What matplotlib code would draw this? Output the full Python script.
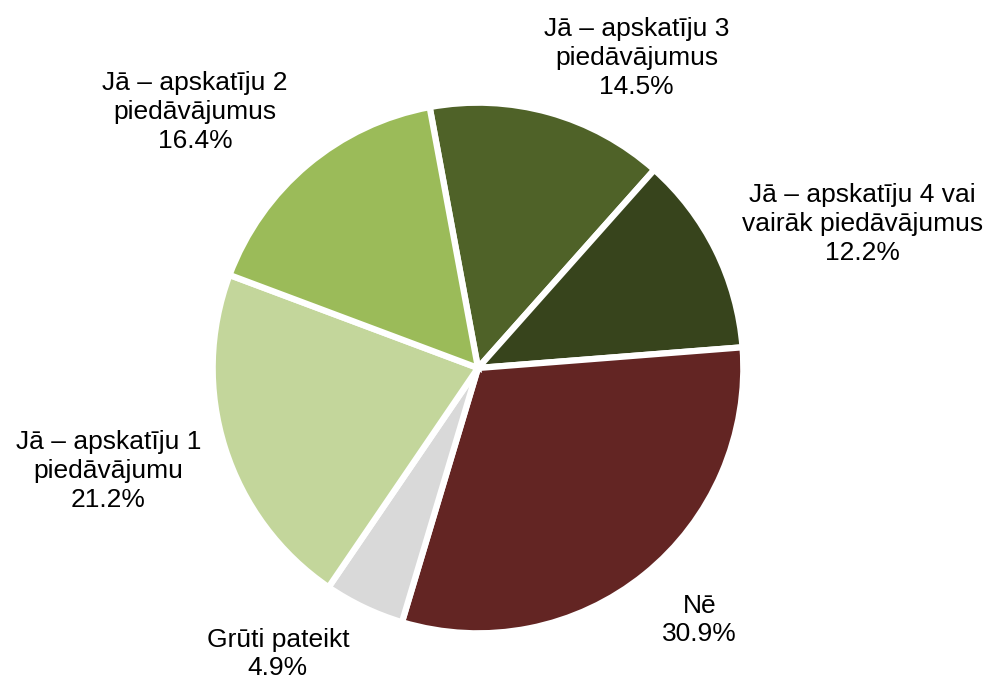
import matplotlib.pyplot as plt

plt.rcParams['font.family'] = ['Liberation Sans', 'DejaVu Sans']

# Kategorijas pulksteņrādītāja virzienā, sākot no augšas
labels = ['Jā – apskatīju 3\npiedāvājumus',
          'Jā – apskatīju 4 vai\nvairāk piedāvājumus',
          'Nē',
          'Grūti pateikt',
          'Jā – apskatīju 1\npiedāvājumu',
          'Jā – apskatīju 2\npiedāvājumus']
shares = [14.5, 12.2, 30.9, 4.9, 21.2, 16.4]
colors = ['#4F6228', '#37441C', '#632523', '#D9D9D9', '#C3D69B', '#9BBB59']

# etiķešu vietas (pīrāga rādiuss = 1)
label_pos = [(0.60, 1.175), (1.455, 0.545), (0.84, -0.955),
             (-0.758, -1.083), (-1.40, -0.39), (-1.072, 0.97)]

fig = plt.figure(figsize=(9.84, 6.82), dpi=100)
ax = fig.add_axes([0, 0, 1, 1])

ax.pie(shares, colors=colors, startangle=100.5, counterclock=False,
       radius=1.005, center=(0, 0), frame=True,
       wedgeprops=dict(edgecolor='white', linewidth=4.5))

for lab, val, (x, y) in zip(labels, shares, label_pos):
    ax.text(x, y, f'{lab}\n{val:.1f}%', ha='center', va='center',
            fontsize=19, linespacing=1.25, color='black')

ax.set_xlim(-478 / 264, (984 - 478) / 264)
ax.set_ylim((368 - 682) / 264, 368 / 264)
ax.set_aspect('auto')
ax.axis('off')

fig.savefig('out.png', dpi=100, facecolor='white')
